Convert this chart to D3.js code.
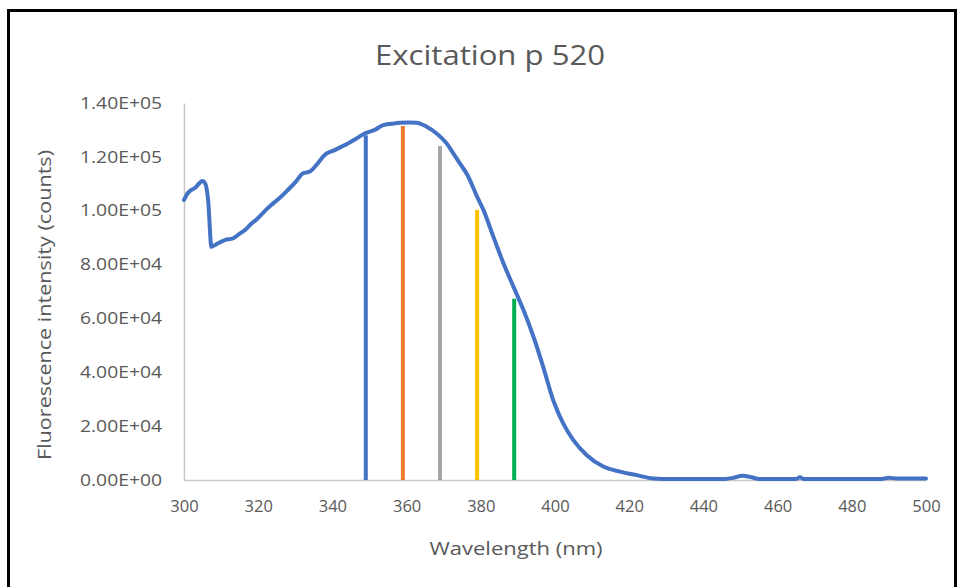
<!DOCTYPE html>
<html>
<head>
<meta charset="utf-8">
<script src="https://cdn.jsdelivr.net/npm/d3@7"></script>
<style>
  body { margin: 0; background: #fff; }
  text { font-family: "Open Sans", "Liberation Sans", sans-serif; }
</style>
</head>
<body>
<div id="chart"></div>
<script>
// Excitation spectrum
const wavelength = [300, 301, 302, 303, 304, 305, 305.6, 306.5, 307.4, 308, 309.2, 311, 313.2, 315, 316.4, 318,
  319.9, 321.5, 323.5, 326, 328, 330, 332.1, 333.9, 336, 337.9, 340.6, 342.5, 344.2, 346.5, 348.7, 351.4,
  353.7, 356, 358.2, 360.5, 362.7, 365.4, 368.1, 370.8, 372.5, 374.4, 376.5, 378.9, 380.7, 383.4, 386.1,
  388.8, 391.5, 394.2, 396.8, 399.5, 402.2, 404.9, 408.5, 413, 417.5, 422, 426.5, 431, 440, 446, 448,
  450.5, 453, 455, 465, 466, 467, 488, 490, 492, 500];
const intensity = [104000, 106500, 107700, 108500, 110000, 111000, 110400, 104000, 86600, 87000, 87900, 89100,
  89700, 91500, 92800, 95000, 97200, 99500, 102100, 105000, 107700, 110500, 113900, 114500, 117500, 120700,
  122500, 123800, 125000, 126800, 128700, 130000, 131800, 132300, 132700, 132800, 132700, 131200, 128700,
  125000, 121500, 117500, 113000, 105500, 100300, 90300, 80500, 71800, 63100, 53200, 42100, 29700, 21000,
  14900, 9300, 5000, 3100, 1800, 600, 400, 400, 400, 800, 1600, 1000, 400, 400, 1000, 400, 400, 800, 600, 600];

// Vertical marker lines
const markerWl = [349, 359, 369, 379, 389];
const markerVal = [128000, 131500, 124000, 100300, 67300];
const markerColors = ["#4472C4", "#ED7D31", "#A5A5A5", "#FFC000", "#00B050"];

const xTicks = [300, 320, 340, 360, 380, 400, 420, 440, 460, 480, 500];
const yTicks = [0, 20000, 40000, 60000, 80000, 100000, 120000, 140000];

const W = 958, H = 587;
const margin = {top: 103, right: 32, bottom: 107, left: 184};

let svg = d3.select("#chart").append("svg")
  .attr("width", W)
  .attr("height", H);

// outer frame
svg.append("rect")
  .attr("x", 8.5).attr("y", 10.5)
  .attr("width", 947).attr("height", 620)
  .attr("fill", "none")
  .attr("stroke", "#000")
  .attr("stroke-width", 3);

let x = d3.scaleLinear().domain([300, 500]).range([margin.left, W - margin.right]);
let y = d3.scaleLinear().domain([0, 140000]).range([H - margin.bottom, margin.top]);

// title
svg.append("text")
  .attr("x", 490).attr("y", 65)
  .attr("text-anchor", "middle")
  .attr("font-size", 28)
  .attr("textLength", 230).attr("lengthAdjust", "spacingAndGlyphs")
  .attr("fill", "#595959")
  .text("Excitation p 520");

// axes
let xAxis = svg.append("g")
  .attr("transform", "translate(0," + y(0) + ")")
  .call(d3.axisBottom(x).tickValues(xTicks).tickSize(0).tickPadding(20));
let yAxis = svg.append("g")
  .attr("transform", "translate(" + x(300) + ",0)")
  .call(d3.axisLeft(y).tickValues(yTicks).tickSize(0).tickPadding(22)
    .tickFormat(d => d.toExponential(2).toUpperCase().replace(/E([+-])(\d)$/, "E$10$2")));

[xAxis, yAxis].forEach(a => {
  a.select(".domain").attr("stroke", "#c8c8c8").attr("stroke-width", 1.5);
  a.selectAll("text").attr("font-size", 16.5).attr("fill", "#595959")
    .style("font-family", "'Open Sans', sans-serif");
});
yAxis.selectAll("text").attr("textLength", 82).attr("lengthAdjust", "spacingAndGlyphs");

// axis titles
svg.append("text")
  .attr("x", 516).attr("y", 555)
  .attr("text-anchor", "middle")
  .attr("font-size", 18)
  .attr("textLength", 173).attr("lengthAdjust", "spacingAndGlyphs")
  .attr("fill", "#595959")
  .text("Wavelength (nm)");
svg.append("text")
  .attr("transform", "translate(51,305) rotate(-90)")
  .attr("text-anchor", "middle")
  .attr("font-size", 18)
  .attr("textLength", 310).attr("lengthAdjust", "spacingAndGlyphs")
  .attr("fill", "#595959")
  .text("Fluorescence intensity (counts)");

// marker lines
svg.append("g").selectAll("line")
  .data(markerWl)
  .join("line")
  .attr("x1", d => x(d)).attr("x2", d => x(d))
  .attr("y1", y(0))
  .attr("y2", (d, i) => y(markerVal[i]))
  .attr("stroke", (d, i) => markerColors[i])
  .attr("stroke-width", 4);

// spectrum
let pts = wavelength.map((w, i) => [w, intensity[i]]);
let line = d3.line().x(d => x(d[0])).y(d => y(d[1])).curve(d3.curveMonotoneX);
svg.append("path")
  .datum(pts)
  .attr("d", line)
  .attr("fill", "none")
  .attr("stroke", "#4472C4")
  .attr("stroke-width", 4)
  .attr("stroke-linejoin", "round")
  .attr("stroke-linecap", "round");
</script>
</body>
</html>
